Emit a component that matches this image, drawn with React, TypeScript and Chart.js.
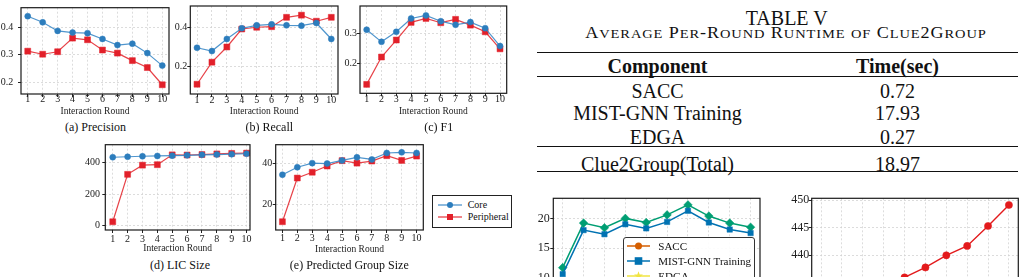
import React, { useEffect, useLayoutEffect, useRef } from "react";
import { Chart, registerables } from "chart.js";

Chart.register(...registerables);

const SERIF = "'Liberation Serif', 'Times New Roman', Times, serif";

// ---------- data ----------
const rounds = [1, 2, 3, 4, 5, 6, 7, 8, 9, 10];

const precisionCore = [0.439, 0.417, 0.386, 0.38, 0.378, 0.357, 0.335, 0.34, 0.306, 0.261];
const precisionPeripheral = [0.313, 0.302, 0.311, 0.36, 0.354, 0.317, 0.306, 0.279, 0.254, 0.192];
const recallCore = [0.297, 0.28, 0.342, 0.397, 0.412, 0.417, 0.412, 0.41, 0.424, 0.342];
const recallPeripheral = [0.11, 0.223, 0.301, 0.393, 0.402, 0.405, 0.453, 0.464, 0.433, 0.453];
const f1Core = [0.312, 0.272, 0.305, 0.349, 0.359, 0.34, 0.328, 0.337, 0.317, 0.258];
const f1Peripheral = [0.132, 0.222, 0.278, 0.336, 0.349, 0.335, 0.346, 0.327, 0.305, 0.249];
const licCore = [432, 435, 438, 440, 442, 444, 447, 449, 451, 454];
const licPeripheral = [25, 324, 382, 385, 447, 446, 449, 453, 456, 458];
const groupCore = [34.5, 38.1, 40.1, 39.9, 41.4, 42.9, 41.9, 45.0, 45.3, 45.0];
const groupPeripheral = [11.8, 32.9, 35.7, 38.7, 41.3, 40.1, 41.1, 43.7, 41.4, 43.5];

const saccTime = [0.7, 0.74, 0.71, 0.73, 0.72, 0.7, 0.74, 0.72, 0.73, 0.71];
const mistGnnTime = [10.6, 18.1, 17.4, 19.1, 18.4, 19.5, 21.4, 19.4, 18.2, 17.6];
const edgaTime = [0.26, 0.28, 0.27, 0.27, 0.28, 0.26, 0.27, 0.28, 0.27, 0.26];
const totalTime = [11.7, 19.3, 18.5, 20.1, 19.4, 20.7, 22.4, 20.5, 19.3, 18.6];

const cumulativeSize = [425.1, 428.3, 431.0, 433.6, 436.0, 437.8, 440.0, 441.7, 445.3, 449.1];

const precisionTicks = [0.2, 0.3, 0.4];
const recallTicks = [0.2, 0.4];
const f1Ticks = [0.2, 0.3];
const licTicks = [0, 200, 400];
const groupTicks = [20, 40];
const runtimeTicks = [0, 5, 10, 15, 20];
const sizeTicks = [425, 430, 435, 440, 445, 450];

const tableTitle = "TABLE V";
const tableCaption = "Average Per-Round Runtime of Clue2Group";
const tableComponents = ["SACC", "MIST-GNN Training", "EDGA"];
const tableTimes = ["0.72", "17.93", "0.27"];
const tableTotalLabel = "Clue2Group(Total)";
const tableTotalTime = "18.97";

// ---------- styles ----------
const CORE = "#2c7dbd";
const CORE_LINE = "rgba(60,138,200,0.9)";
const PERI = "#e2202a";
const PERI_LINE = "rgba(228,45,52,0.9)";
const C_SACC = "#D55E00";
const C_MIST = "#0072B2";
const C_EDGA = "#F0E442";
const C_TOTAL = "#009E73";
const C_SIZE = "#e31a1c";

type Series = {
  label: string;
  values: number[];
  color: string;
  line: string;
  style: string;
  radius: number;
  width: number;
};

type PanelSpec = {
  plot: [number, number, number, number];
  xRange: [number, number];
  yRange: [number, number];
  yTicks: number[];
  yFormat: (v: number) => string;
  series: Series[];
  tickSize: number;
  yGap: number;
  xLabelOffset: number;
  xTitle?: string;
  xTitleOffset?: number;
};

const fmt1 = (v: number) => v.toFixed(1);
const fmt0 = (v: number) => String(Math.round(v));

const corePeri = (core: number[], peri: number[]): Series[] => [
  { label: "Core", values: core, color: CORE, line: CORE_LINE, style: "circle", radius: 3, width: 1.2 },
  { label: "Peripheral", values: peri, color: PERI, line: PERI_LINE, style: "rect", radius: 4.2, width: 1.2 },
];

const framePlugin = {
  id: "frame",
  afterDatasetsDraw(chart: any) {
    const { ctx, chartArea } = chart;
    ctx.save();
    ctx.strokeStyle = "#1a1a1a";
    ctx.lineWidth = 1.2;
    ctx.strokeRect(
      chartArea.left,
      chartArea.top,
      chartArea.right - chartArea.left,
      chartArea.bottom - chartArea.top
    );
    ctx.restore();
  },
};

function Panel({ spec }: { spec: PanelSpec }) {
  const ref = useRef<HTMLCanvasElement>(null);
  const [pl, pt, pw, ph] = spec.plot;
  const AXW = 44;
  const PAD = 8;
  const titleSize = 9.5;
  const xH = spec.xTitle ? (spec.xTitleOffset as number) + titleSize * 0.6 : 40;
  const cLeft = Math.floor(pl - AXW);
  const cTop = Math.floor(pt - PAD);
  const cRight = Math.ceil(pl + pw + PAD);
  const cBottom = Math.ceil(pt + ph + xH);
  const W = cRight - cLeft;
  const H = cBottom - cTop;

  useEffect(() => {
    const tickFont = { family: SERIF, size: spec.tickSize, lineHeight: 1 };
    const chart = new Chart(ref.current as HTMLCanvasElement, {
      type: "line",
      data: {
        datasets: spec.series.map((s) => ({
          label: s.label,
          data: s.values.map((v, i) => ({ x: rounds[i], y: v })),
          borderColor: s.line,
          backgroundColor: s.color,
          pointBackgroundColor: s.color,
          pointBorderColor: s.color,
          pointBorderWidth: 0.5,
          pointStyle: s.style as any,
          pointRadius: s.radius,
          borderWidth: s.width,
          tension: 0,
          clip: false as any,
        })),
      },
      options: {
        responsive: false,
        animation: false,
        events: [],
        font: { family: SERIF },
        layout: {
          padding: {
            left: 0,
            top: pt - cTop,
            right: cRight - (pl + pw),
            bottom: cBottom - (pt + ph + xH),
          },
        },
        plugins: { legend: { display: false }, tooltip: { enabled: false } },
        scales: {
          x: {
            type: "linear",
            min: spec.xRange[0],
            max: spec.xRange[1],
            afterBuildTicks: (s: any) => {
              s.ticks = rounds.map((v) => ({ value: v }));
            },
            afterFit: (s: any) => {
              s.height = xH;
            },
            grid: { color: "#d4d4d4", lineWidth: 0.8, tickLength: 3, tickColor: "#222", tickWidth: 1 },
            border: { display: false, dash: [2, 2] },
            ticks: {
              font: tickFont,
              color: "#222",
              padding: spec.xLabelOffset - 3 - spec.tickSize / 2,
              autoSkip: false,
              maxRotation: 0,
              callback: (v: any) => String(v),
            },
            title: {
              display: !!spec.xTitle,
              text: spec.xTitle || "",
              font: { family: SERIF, size: titleSize, lineHeight: 1.2 },
              color: "#222",
              padding: 0,
            },
          },
          y: {
            type: "linear",
            min: spec.yRange[0],
            max: spec.yRange[1],
            afterBuildTicks: (s: any) => {
              s.ticks = spec.yTicks.map((v) => ({ value: v }));
            },
            afterFit: (s: any) => {
              s.width = pl - cLeft;
            },
            grid: { color: "#d4d4d4", lineWidth: 0.8, tickLength: 3, tickColor: "#222", tickWidth: 1 },
            border: { display: false, dash: [2, 2] },
            ticks: {
              font: tickFont,
              color: "#222",
              padding: spec.yGap - 3,
              callback: (v: any) => spec.yFormat(Number(v)),
            },
          },
        },
      } as any,
      plugins: [framePlugin],
    });
    return () => chart.destroy();
  }, []);

  return (
    <canvas
      ref={ref}
      width={W}
      height={H}
      style={{ position: "absolute", left: cLeft, top: cTop, width: W, height: H }}
    />
  );
}

function Txt(props: {
  x: number;
  y: number;
  size: number;
  bold?: boolean;
  align?: "center" | "left";
  children: React.ReactNode;
}) {
  const { x, y, size, bold, align = "center", children } = props;
  return (
    <div
      style={{
        position: "absolute",
        left: x,
        top: y,
        transform: align === "center" ? "translate(-50%,-50%)" : "translate(0,-50%)",
        fontFamily: SERIF,
        fontSize: size,
        lineHeight: 1,
        whiteSpace: "nowrap",
        fontWeight: bold ? 700 : 400,
        color: "#111",
      }}
    >
      {children}
    </div>
  );
}

// Small-caps caption: first letter of each word full size, the rest as reduced
// capitals; the line is widened (half by glyph stretch, half by tracking) to the given width.
function SmallCaps(props: { x: number; y: number; width: number; size: number; text: string }) {
  const ref = useRef<HTMLDivElement>(null);
  const words = props.text.split(" ");
  const chars = props.text.replace(/ /g, "").length;
  useLayoutEffect(() => {
    const el = ref.current as HTMLDivElement;
    const w = el.offsetWidth;
    const s = 1 + (props.width / w - 1) / 2;
    const ls = (props.width / s - w) / chars;
    el.style.letterSpacing = `${ls}px`;
    el.style.transform = `translate(-50%,-50%) scaleX(${s})`;
  }, []);
  const small = props.size * 0.8;
  return (
    <div
      ref={ref}
      style={{
        position: "absolute",
        left: props.x,
        top: props.y,
        transform: "translate(-50%,-50%)",
        fontFamily: SERIF,
        fontSize: props.size,
        lineHeight: 1,
        whiteSpace: "nowrap",
        color: "#111",
      }}
    >
      {words.map((w, i) => {
        const parts: React.ReactNode[] = [];
        let k = 0;
        for (const ch of w) {
          const isSmall = ch === ch.toLowerCase() && ch !== ch.toUpperCase();
          parts.push(
            <span key={k++} style={{ fontSize: isSmall ? small : props.size }}>
              {ch.toUpperCase()}
            </span>
          );
        }
        return (
          <React.Fragment key={i}>
            {i > 0 ? " " : ""}
            {parts}
          </React.Fragment>
        );
      })}
    </div>
  );
}

function Rule({ x1, x2, y, w }: { x1: number; x2: number; y: number; w: number }) {
  return (
    <div style={{ position: "absolute", left: x1, top: y - w / 2, width: x2 - x1, height: w, background: "#111" }} />
  );
}

function Marker({ style, color, size }: { style: string; color: string; size: number }) {
  const c = 12;
  if (style === "circle") return <circle cx={c} cy={6} r={size} fill={color} />;
  if (style === "rect")
    return <rect x={c - size} y={6 - size} width={size * 2} height={size * 2} fill={color} />;
  if (style === "rectRot")
    return <polygon points={`${c},${6 - size} ${c + size},6 ${c},${6 + size} ${c - size},6`} fill={color} />;
  // five-pointed star
  const pts: string[] = [];
  for (let k = 0; k < 10; k++) {
    const r = k % 2 === 0 ? size * 1.3 : size * 0.55;
    const a = -Math.PI / 2 + (k * Math.PI) / 5;
    pts.push(`${c + r * Math.cos(a)},${6 + r * Math.sin(a)}`);
  }
  return <polygon points={pts.join(" ")} fill={color} />;
}

function LegendEntry(props: {
  x: number;
  y: number;
  len: number;
  textX: number;
  label: string;
  color: string;
  line: string;
  style: string;
  size: number;
  font: number;
  lw: number;
}) {
  return (
    <>
      <svg
        width={props.len}
        height={12}
        viewBox={`${12 - props.len / 2} 0 ${props.len} 12`}
        style={{ position: "absolute", left: props.x, top: props.y - 6, overflow: "visible" }}
      >
        <line x1={12 - props.len / 2} y1={6} x2={12 + props.len / 2} y2={6} stroke={props.line} strokeWidth={props.lw} />
        <Marker style={props.style} color={props.color} size={props.size} />
      </svg>
      <Txt x={props.textX} y={props.y} size={props.font} align="left">
        {props.label}
      </Txt>
    </>
  );
}

const panels: PanelSpec[] = [
  {
    plot: [21, 6, 148, 88],
    xRange: [0.55, 10.45],
    yRange: [0.1587, 0.4696],
    yTicks: precisionTicks,
    yFormat: fmt1,
    series: corePeri(precisionCore, precisionPeripheral),
    tickSize: 10,
    yGap: 7.7,
    xLabelOffset: 5.7,
    xTitle: "Interaction Round",
    xTitleOffset: 17,
  },
  {
    plot: [190.3, 6, 147.7, 88],
    xRange: [0.55, 10.45],
    yRange: [0.06, 0.511],
    yTicks: recallTicks,
    yFormat: fmt1,
    series: corePeri(recallCore, recallPeripheral),
    tickSize: 10,
    yGap: 3,
    xLabelOffset: 6,
    xTitle: "Interaction Round",
    xTitleOffset: 17,
  },
  {
    plot: [360, 6, 146.7, 87.3],
    xRange: [0.55, 10.45],
    yRange: [0.1026, 0.39],
    yTicks: f1Ticks,
    yFormat: fmt1,
    series: corePeri(f1Core, f1Peripheral),
    tickSize: 10,
    yGap: 3,
    xLabelOffset: 5.7,
    xTitle: "Interaction Round",
    xTitleOffset: 17.7,
  },
  {
    plot: [105.3, 144.7, 144.7, 85.3],
    xRange: [0.5, 10.23],
    yRange: [-27, 511],
    yTicks: licTicks,
    yFormat: fmt0,
    series: corePeri(licCore, licPeripheral),
    tickSize: 10,
    yGap: 5.3,
    xLabelOffset: 9.5,
    xTitle: "Interaction Round",
    xTitleOffset: 18.8,
  },
  {
    plot: [275.7, 144.7, 147.6, 85.3],
    xRange: [0.55, 10.45],
    yRange: [7.8, 49],
    yTicks: groupTicks,
    yFormat: fmt0,
    series: corePeri(groupCore, groupPeripheral),
    tickSize: 10,
    yGap: 3.4,
    xLabelOffset: 8.5,
    xTitle: "Interaction Round",
    xTitleOffset: 19,
  },
  {
    plot: [553.3, 198.3, 206.7, 142.9],
    xRange: [0.55, 10.45],
    yRange: [-0.85, 23.53],
    yTicks: runtimeTicks,
    yFormat: fmt0,
    series: [
      { label: "SACC", values: saccTime, color: C_SACC, line: C_SACC, style: "circle", radius: 3.5, width: 1.5 },
      { label: "MIST-GNN Training", values: mistGnnTime, color: C_MIST, line: C_MIST, style: "rect", radius: 3.8, width: 1.5 },
      { label: "EDGA", values: edgaTime, color: C_EDGA, line: C_EDGA, style: "star", radius: 4.5, width: 1.5 },
      { label: "Clue2Group(Total)", values: totalTime, color: C_TOTAL, line: C_TOTAL, style: "rectRot", radius: 4.3, width: 1.5 },
    ],
    tickSize: 12,
    yGap: 3.5,
    xLabelOffset: 9,
  },
  {
    plot: [811.7, 198.3, 206.6, 146],
    xRange: [0.55, 10.45],
    yRange: [423.9, 450.31],
    yTicks: sizeTicks,
    yFormat: fmt0,
    series: [
      { label: "LIC", values: cumulativeSize, color: C_SIZE, line: C_SIZE, style: "circle", radius: 3.6, width: 1.4 },
    ],
    tickSize: 12,
    yGap: 2.5,
    xLabelOffset: 9,
  },
];

export default function App() {
  const tl = 536.7;
  const tr = 1018.3;
  const colA = 657.5;
  const colB = 897.5;
  const rowY = [90.8, 113.3, 137];
  return (
    <div
      style={{
        position: "absolute",
        left: 0,
        top: 0,
        width: 1025,
        height: 277,
        overflow: "hidden",
        background: "#fff",
      }}
    >
      {panels.map((p, i) => (
        <Panel key={i} spec={p} />
      ))}

      {/* sub-figure captions */}
      <Txt x={95.5} y={126.7} size={12}>(a) Precision</Txt>
      <Txt x={269.3} y={127} size={12}>(b) Recall</Txt>
      <Txt x={438.7} y={127} size={12}>(c) F1</Txt>
      <Txt x={180} y={265} size={12}>(d) LIC Size</Txt>
      <Txt x={349.3} y={265} size={12}>(e) Predicted Group Size</Txt>

      {/* shared legend for (a)-(e) */}
      <div
        style={{
          position: "absolute",
          left: 431.7,
          top: 195,
          width: 80,
          height: 33.3,
          boxSizing: "border-box",
          border: "1.2px solid #222",
          background: "#fff",
        }}
      />
      <LegendEntry x={438} y={204.7} len={24} textX={467.7} label="Core" color={CORE} line={CORE_LINE} style="circle" size={3} font={10} lw={1.3} />
      <LegendEntry x={438} y={217.3} len={24} textX={467.7} label="Peripheral" color={PERI} line={PERI_LINE} style="rect" size={3} font={10} lw={1.3} />

      {/* runtime legend */}
      <div
        style={{
          position: "absolute",
          left: 623.3,
          top: 237.3,
          width: 131.7,
          height: 70,
          boxSizing: "border-box",
          border: "1px solid #333",
          borderRadius: 3,
          background: "rgba(255,255,255,0.9)",
        }}
      />
      <LegendEntry x={627} y={245.7} len={23} textX={658.3} label="SACC" color={C_SACC} line={C_SACC} style="circle" size={3.5} font={11} lw={1.5} />
      <LegendEntry x={627} y={261} len={23} textX={658.3} label="MIST-GNN Training" color={C_MIST} line={C_MIST} style="rect" size={3.8} font={11} lw={1.5} />
      <LegendEntry x={627} y={276.3} len={23} textX={658.3} label="EDGA" color={C_EDGA} line={C_EDGA} style="star" size={3.6} font={11} lw={1.5} />
      <LegendEntry x={627} y={291.6} len={23} textX={658.3} label="Clue2Group(Total)" color={C_TOTAL} line={C_TOTAL} style="rectRot" size={4.3} font={11} lw={1.5} />

      {/* runtime table */}
      <Txt x={786.7} y={18.3} size={20}>{tableTitle}</Txt>
      <SmallCaps x={785.8} y={33.4} width={398} size={16.5} text={tableCaption} />
      <Rule x1={tl} x2={tr} y={52.7} w={1.5} />
      <Txt x={colA} y={66} size={20} bold>Component</Txt>
      <Txt x={colB} y={66} size={20} bold>Time(sec)</Txt>
      <Rule x1={tl} x2={tr} y={76} w={1} />
      {tableComponents.map((c, i) => (
        <React.Fragment key={c}>
          <Txt x={colA} y={rowY[i]} size={20}>{c}</Txt>
          <Txt x={colB} y={rowY[i]} size={20}>{tableTimes[i]}</Txt>
        </React.Fragment>
      ))}
      <Rule x1={tl} x2={tr} y={146.7} w={1} />
      <Txt x={colA} y={164} size={20}>{tableTotalLabel}</Txt>
      <Txt x={colB} y={164} size={20}>{tableTotalTime}</Txt>
      <Rule x1={tl} x2={tr} y={171.7} w={1.5} />
    </div>
  );
}
